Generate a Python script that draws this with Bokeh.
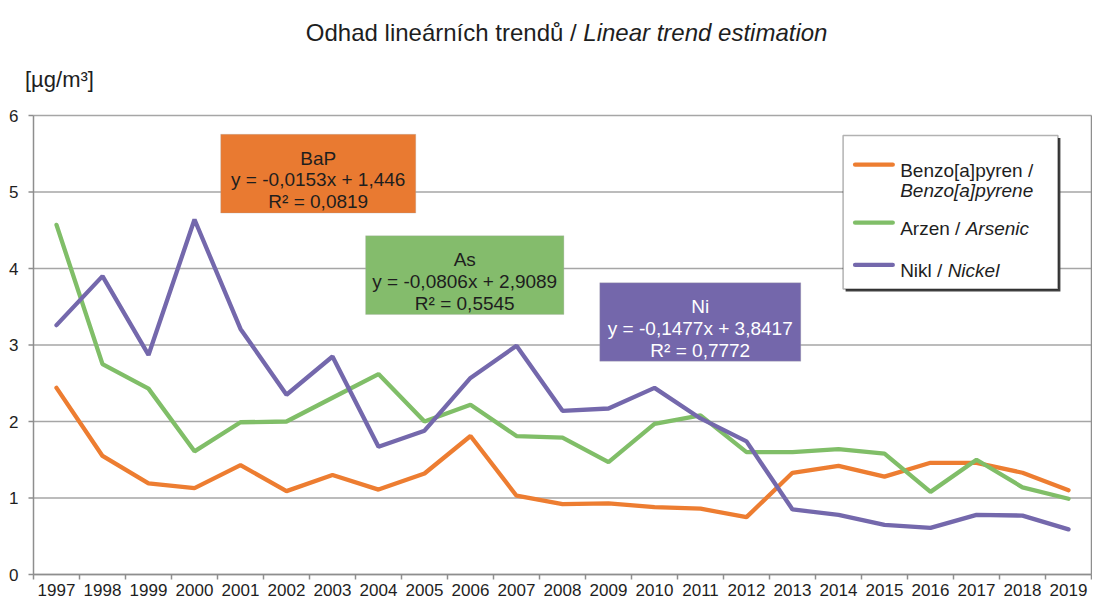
from bokeh.plotting import figure
from bokeh.models import Label, BoxAnnotation, Range1d
from bokeh.core.properties import value
from bokeh.embed import file_html
from bokeh.resources import INLINE

# ---------------- data ----------------
years = list(range(1997, 2020))
year_labels = [str(y) for y in years]
bap = [2.44, 1.55, 1.19, 1.13, 1.43, 1.09, 1.30, 1.11, 1.32, 1.81, 1.03, 0.92,
       0.93, 0.88, 0.86, 0.75, 1.33, 1.42, 1.28, 1.46, 1.46, 1.33, 1.10]
arsenic = [4.57, 2.75, 2.43, 1.61, 1.99, 2.00, 2.31, 2.62, 2.00, 2.22, 1.81, 1.79,
           1.47, 1.97, 2.08, 1.60, 1.60, 1.64, 1.58, 1.08, 1.50, 1.14, 0.99]
nickel = [3.26, 3.90, 2.87, 4.64, 3.21, 2.35, 2.85, 1.67, 1.88, 2.57, 2.99, 2.14,
          2.17, 2.44, 2.04, 1.74, 0.85, 0.78, 0.65, 0.61, 0.78, 0.77, 0.59]
y_ticks = [0, 1, 2, 3, 4, 5, 6]
y_tick_labels = ["0", "1", "2", "3", "4", "5", "6"]

title_cz = "Odhad lineárních trendů /"
title_en = "Linear trend estimation"
unit_label = "[µg/m³]"
legend_cz = ["Benzo[a]pyren /", "Arzen /", "Nikl /"]
legend_en = ["Benzo[a]pyrene", "Arsenic", "Nickel"]
trend_names = ["BaP", "As", "Ni"]
trend_eq = ["y = -0,0153x + 1,446", "y = -0,0806x + 2,9089", "y = -0,1477x + 3,8417"]
trend_r2 = ["R² = 0,0819", "R² = 0,5545", "R² = 0,7772"]

C_ORANGE = "#ED7D31"
C_GREEN = "#80BE68"
C_PURPLE = "#7468AC"
BOX_FILL = ["#E97A31", "#84BC6C", "#7467AB"]
BOX_TEXT = ["#1E1E1E", "#1E1E1E", "#FFFFFF"]
FONT = "Liberation Sans"
GRAY = "#8E8E8E"
GRID = "#A6A6A6"
TXT = "#1E1E1E"

# ---------------- geometry (canvas px) ----------------
W, H = 1092, 600
AX_L, AX_R = 33, 1091          # canvas x of the plot-area edges
FB = 574                       # canvas y of value 0
TOP6 = 115                     # canvas y of value 6
PXX = (AX_R - AX_L) / 23.0
PXY = (FB - TOP6) / 6.0
XL, XR = years[0] - 0.5, years[-1] + 0.5
XS = XL - AX_L / PXX
XE = XR + (W - AX_R) / PXX
YMAX = FB / PXY
YMIN = -(H - FB) / PXY

p = figure(width=W, height=H, output_backend="svg", toolbar_location=None,
           x_range=Range1d(XS, XE), y_range=Range1d(YMIN, YMAX),
           x_axis_location=None, y_axis_location=None,
           min_border_left=0, min_border_right=0, min_border_top=0, min_border_bottom=0)
p.background_fill_color = "white"
p.border_fill_color = "white"
p.outline_line_color = None
p.xgrid.visible = False
p.ygrid.visible = False

n = len(y_ticks)
# horizontal gridlines
p.segment(x0=[XL] * n, x1=[XR] * n, y0=y_ticks, y1=y_ticks,
          line_color=GRID, line_width=1.3, level="underlay")
# left axis, right border
p.segment(x0=[XL, XR], x1=[XL, XR], y0=[y_ticks[0]] * 2, y1=[y_ticks[-1]] * 2,
          line_color=GRAY, line_width=1.5, level="underlay")
# bottom axis line
p.segment(x0=[XL], x1=[XR], y0=[y_ticks[0]], y1=[y_ticks[0]],
          line_color=GRAY, line_width=1.5, level="underlay")
# y ticks + labels
p.segment(x0=[XL - 5 / PXX] * n, x1=[XL] * n, y0=y_ticks, y1=y_ticks,
          line_color=GRAY, line_width=1.5, level="underlay")
p.text(x=[XL] * n, y=y_ticks, text=y_tick_labels, x_offset=-15,
       text_align="right", text_baseline="middle", text_font=value(FONT),
       text_font_size="17px", text_color=TXT)
# x ticks at category boundaries + year labels
bounds_x = [y - 0.5 for y in years] + [XR]
m = len(bounds_x)
p.segment(x0=bounds_x, x1=bounds_x, y0=[0] * m, y1=[-5 / PXY] * m,
          line_color=GRAY, line_width=1.5, level="underlay")
p.text(x=years, y=[0] * len(years), text=year_labels, y_offset=9,
       text_align="center", text_baseline="top", text_font=value(FONT),
       text_font_size="17px", text_color=TXT)

# ---------------- series ----------------
for vals, col in [(bap, C_ORANGE), (arsenic, C_GREEN), (nickel, C_PURPLE)]:
    p.line(years, vals, line_color=col, line_width=4.3, line_cap="round")


def dy(cy):
    return (FB - cy) / PXY


# ---------------- title & unit ----------------
p.add_layout(Label(x=2002.42, y=dy(31.7), text=title_cz, text_align="left",
                   text_baseline="alphabetic", text_font=FONT, text_font_size="24px",
                   text_color=TXT))
p.add_layout(Label(x=2002.42, y=dy(31.7), x_offset=277.5, text=title_en, text_align="left",
                   text_baseline="alphabetic", text_font=FONT, text_font_size="24px",
                   text_font_style="italic", text_color=TXT))
p.add_layout(Label(x=XL - 8.5 / PXX, y=dy(79.3), text=unit_label, text_align="left",
                   text_baseline="alphabetic", text_font=FONT, text_font_size="22px",
                   text_color=TXT))

# ---------------- trend boxes ----------------
boxes = [  # left, right, bottom, top
    (2000.57, 2004.81, 4.725, 5.754),
    (2003.72, 2008.03, 3.40, 4.428),
    (2008.81, 2013.18, 2.788, 3.813),
]
line_gap = 0.284
for i, (l, r, b, t) in enumerate(boxes):
    p.add_layout(BoxAnnotation(left=l, right=r, bottom=b, top=t, fill_color=BOX_FILL[i],
                               fill_alpha=1, line_color="#A8A8A8", line_width=1))
    cx = (l + r) / 2
    first = t - 0.312
    for k, txt in enumerate([trend_names[i], trend_eq[i], trend_r2[i]]):
        p.add_layout(Label(x=cx, y=first - k * line_gap, text=txt, text_align="center",
                           text_baseline="alphabetic", text_font=FONT, text_font_size="19px",
                           text_color=BOX_TEXT[i]))

# ---------------- legend ----------------
LL, LR, LB, LT = 2014.1, 2018.77, 3.733, 5.739
sx, sy = 2.5 / PXX, 2.5 / PXY
p.add_layout(BoxAnnotation(left=LL + sx, right=LR + sx, bottom=LB - sy, top=LT - sy,
                           fill_color="#404040", fill_alpha=1, line_color=None))
p.add_layout(BoxAnnotation(left=LL, right=LR, bottom=LB, top=LT, fill_color="white",
                           fill_alpha=1, line_color="#000000", line_width=1.5))

sample_y = [5.357, 4.599, 4.047]
text_y = [5.285, 4.529, 3.975]
for col, syv in zip([C_ORANGE, C_GREEN, C_PURPLE], sample_y):
    p.line([2014.36, 2015.18], [syv, syv], line_color=col, line_width=4.3,
           line_cap="round", level="overlay")

TX = 2015.34
p.add_layout(Label(x=TX, y=text_y[0], text=legend_cz[0], text_font=FONT, text_font_size="19px",
                   text_baseline="alphabetic", text_color=TXT))
p.add_layout(Label(x=TX, y=5.017, text=legend_en[0], text_font=FONT, text_font_size="19px",
                   text_font_style="italic", text_baseline="alphabetic", text_color=TXT))
offsets = [None, 65.5, 47.5]
for i in (1, 2):
    p.add_layout(Label(x=TX, y=text_y[i], text=legend_cz[i], text_font=FONT,
                       text_font_size="19px", text_baseline="alphabetic", text_color=TXT))
    p.add_layout(Label(x=TX, y=text_y[i], x_offset=offsets[i], text=legend_en[i], text_font=FONT,
                       text_font_size="19px", text_font_style="italic",
                       text_baseline="alphabetic", text_color=TXT))

open("out.html", "w").write(file_html(p, INLINE))
